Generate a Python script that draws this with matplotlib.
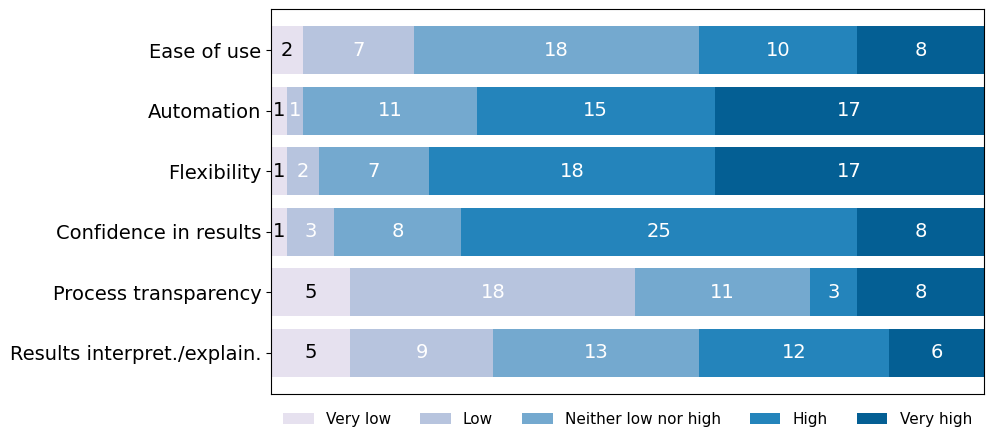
import numpy as np
import matplotlib.pyplot as plt

categorias = ['Ease of use', 'Automation', 'Flexibility', 'Confidence in results',
              'Process transparency', 'Results interpret./explain.']
niveis = ['Very low', 'Low', 'Neither low nor high', 'High', 'Very high']
very_low = [2, 1, 1, 1, 5, 5]
low = [7, 1, 2, 3, 18, 9]
neither = [18, 11, 7, 8, 11, 13]
high = [10, 15, 18, 25, 3, 12]
very_high = [8, 17, 17, 8, 8, 6]

cores = ['#e6e1ef', '#b7c4de', '#74a9cf', '#2484bb', '#045f94']
series = [very_low, low, neither, high, very_high]

fig = plt.figure(figsize=(9.94, 4.43), dpi=100)
ax = fig.add_axes([271 / 994, 1 - 394 / 443, 713 / 994, 385 / 443])

y = np.arange(len(categorias))
esquerda = np.zeros(len(categorias))
for i, (nome, valores) in enumerate(zip(niveis, series)):
    valores = np.array(valores, dtype=float)
    barras = ax.barh(y, valores, left=esquerda, height=0.79, color=cores[i], label=nome)
    cor_texto = 'black' if i == 0 else 'white'
    ax.bar_label(barras, labels=[str(int(v)) for v in valores], label_type='center',
                 color=cor_texto, fontsize=14)
    esquerda += valores

ax.set_yticks(y)
ax.set_yticklabels(categorias, fontsize=14)
ax.set_xticks([])
ax.set_xlim(0, esquerda.max())
ax.set_ylim(len(categorias) - 0.32, -0.68)

ax.legend(loc='upper center', bbox_to_anchor=(0.5, -0.01), ncol=5, frameon=False,
          fontsize=11, handlelength=2.0, columnspacing=1.9)

plt.savefig('out.png', dpi=100)
